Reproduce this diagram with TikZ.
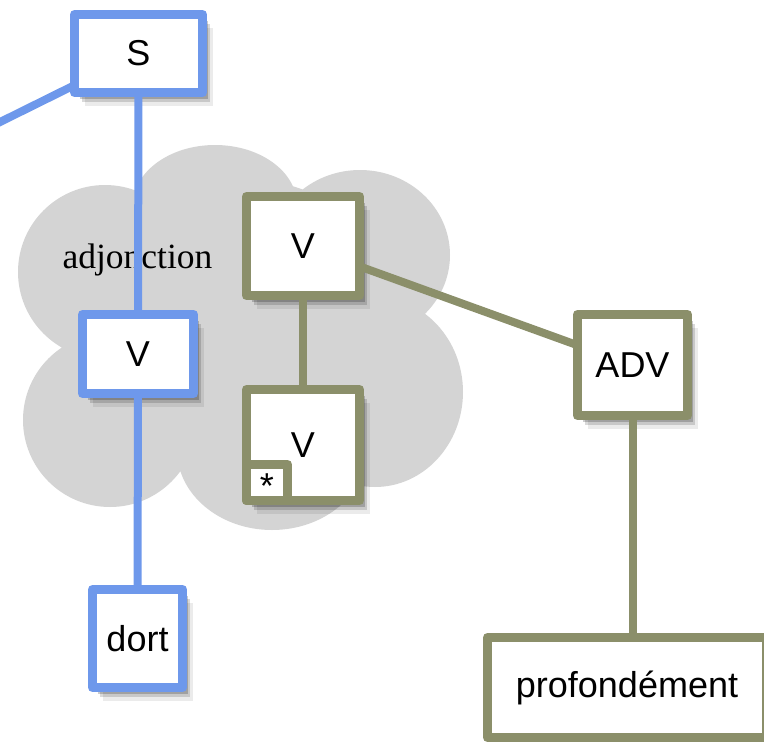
\documentclass[tikz,border=0pt]{standalone}
\usepackage{fontspec}
\setmainfont{Liberation Sans}
\newfontfamily\adjfont{Liberation Serif}
\usetikzlibrary{shadows}

\definecolor{synblue}{RGB}{110,152,235}
\definecolor{synolive}{RGB}{139,143,106}
\definecolor{cloudgray}{RGB}{212,212,212}

\begin{document}
\begin{tikzpicture}[x=1pt, y=-1pt, line join=round,
  cat/.style={draw, fill=white, line width=9pt, inner sep=0pt, outer sep=0pt,
    font=\fontsize{36}{42}\selectfont,
    drop shadow={shadow xshift=5pt, shadow yshift=-6pt, opacity=.2, fill=black},
    drop shadow={shadow xshift=7pt, shadow yshift=-9pt, opacity=.15, fill=black},
    drop shadow={shadow xshift=10pt, shadow yshift=-13pt, opacity=.08, fill=black}},
  blue cat/.style={cat, draw=synblue},
  olive cat/.style={cat, draw=synolive},
  foot box/.style={draw=synolive, fill=white, line width=9pt, inner sep=0pt, outer sep=0pt,
    font=\fontsize{36}{42}\selectfont},
  blue link/.style={synblue, line width=8pt},
  olive link/.style={synolive, line width=8pt}]
  \useasboundingbox (0,0) rectangle (764,742);

  % cloud
  \fill[cloudgray] (215,205) ellipse[x radius=82, y radius=60]
    (105,272) circle[radius=87] (110,420) circle[radius=87]
    (360,255) ellipse[x radius=90, y radius=85] (375,392) ellipse[x radius=88, y radius=95]
    (272,450) ellipse[x radius=95, y radius=80] (250,330) circle[radius=150];
  \node[font=\adjfont\fontsize{35.5}{42}\selectfont, anchor=base] (adj) at (137.5,268) {adjonction};

  % blue tree
  \node[blue cat, minimum width=128pt, minimum height=78pt] (S) at (138.5,53.5) {S};
  \node[blue cat, minimum width=111pt, minimum height=79pt] (V1) at (138,354) {V};
  \node[blue cat, minimum width=90pt, minimum height=98pt] (dort) at (137.5,638.5) {dort};
  \coordinate (S-in) at (-10,127);
  \draw[blue link] (S-in) -- (S);
  \draw[blue link] (S) -- (V1);
  \draw[blue link] (V1) -- (dort);

  % olive tree
  \node[olive cat, minimum width=113pt, minimum height=99pt] (V2) at (303,246) {V};
  \node[olive cat, minimum width=113pt, minimum height=111pt] (V3) at (303,445) {V};
  \node[foot box, minimum width=41pt, minimum height=36pt, anchor=south west] (V3-foot) at (V3.south west) {\raisebox{-16pt}[0pt][0pt]{*}};
  \node[olive cat, minimum width=110pt, minimum height=101pt] (ADV) at (632.5,365) {ADV};
  \node[olive cat, minimum width=279pt, minimum height=100pt] (prof) at (627,687.5) {profondément};
  \draw[olive link] (V2) -- (V3);
  \draw[olive link] (V2) -- (ADV);
  \draw[olive link] (ADV) -- (ADV |- prof.north);
\end{tikzpicture}
\end{document}
